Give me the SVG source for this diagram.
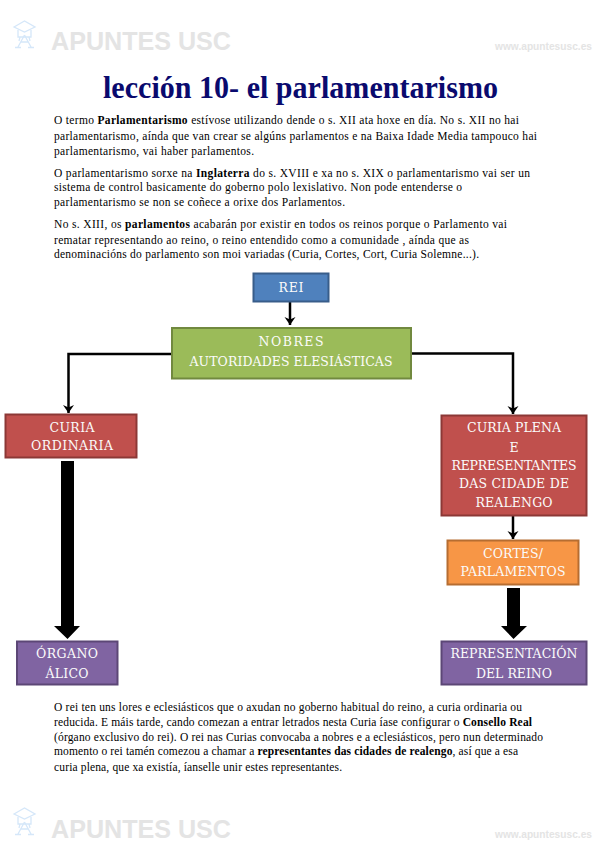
<svg xmlns="http://www.w3.org/2000/svg" xmlns:xlink="http://www.w3.org/1999/xlink" width="599" height="848" viewBox="0 0 599 848">
<style>
.wm{font-family:"Liberation Sans",Arial,sans-serif;font-weight:700;fill:#e4e4e4}
.ti{font-family:"Liberation Serif","Times New Roman",serif;font-weight:700;font-size:32px;fill:#0a0a6e}
.p{font-family:"Liberation Serif","Times New Roman",serif;font-size:11.500px;fill:#000}
.b{font-weight:700;fill:#000}
.n{font-family:"DejaVu Serif",serif;font-size:12.500px;fill:#fbfbfb;text-anchor:middle}
.box{stroke-width:2}
.con{fill:none;stroke:#000;stroke-width:2.500}
.ico{fill:none;stroke:#d5e7f9;stroke-width:1.300}
</style>
<defs>
<marker id="ah" markerUnits="userSpaceOnUse" markerWidth="12" markerHeight="12" refX="9" refY="6" orient="auto">
<path d="M1 0.500L9 6L1 11.500L3.500 6Z" fill="#000"/>
</marker>
<g id="logo">
<path class="ico" d="M14 27L24.500 21L35 27L24.500 32Z"/>
<path class="ico" d="M18 30V37H31V30M20 37L19 41M29 37L30 41"/>
<path class="ico" d="M24.500 35L18 47M24.500 35L31 47M21 42H28M15 47.500H21M28 47.500H34"/>
</g>
</defs>
<rect width="599" height="848" fill="#fff"/>
<g id="watermark-top">
<use xlink:href="#logo" href="#logo"/>
<text class="wm" x="51" y="50" font-size="25" textLength="180" lengthAdjust="spacingAndGlyphs">APUNTES USC</text>
<text class="wm" x="495" y="50" font-size="11" textLength="97" lengthAdjust="spacingAndGlyphs">www.apuntesusc.es</text>
</g>
<g id="watermark-bottom">
<use xlink:href="#logo" href="#logo" y="787"/>
<text class="wm" x="51" y="838" font-size="25" textLength="180" lengthAdjust="spacingAndGlyphs">APUNTES USC</text>
<text class="wm" x="495" y="838" font-size="11" textLength="97" lengthAdjust="spacingAndGlyphs">www.apuntesusc.es</text>
</g>
<g id="title">
<text class="ti" x="103" y="98" textLength="395" lengthAdjust="spacingAndGlyphs">lección 10- el parlamentarismo</text>
</g>
<g id="intro">
<text class="p" x="54" y="124" textLength="465"><tspan>O termo </tspan><tspan class="b">Parlamentarismo</tspan><tspan> estívose utilizando dende o s. XII ata hoxe en día. No s. XII no hai</tspan></text>
<text class="p" x="54" y="140" textLength="483">parlamentarismo, aínda que van crear se algúns parlamentos e na Baixa Idade Media tampouco hai</text>
<text class="p" x="54" y="155" textLength="200">parlamentarismo, vai haber parlamentos.</text>
<text class="p" x="54" y="177" textLength="476"><tspan>O parlamentarismo sorxe na </tspan><tspan class="b">Inglaterra</tspan><tspan> do s. XVIII e xa no s. XIX o parlamentarismo vai ser un</tspan></text>
<text class="p" x="54" y="191" textLength="408">sistema de control basicamente do goberno polo lexislativo. Non pode entenderse o</text>
<text class="p" x="54" y="206" textLength="291">parlamentarismo se non se coñece a orixe dos Parlamentos.</text>
<text class="p" x="54" y="228" textLength="453"><tspan>No s. XIII, os </tspan><tspan class="b">parlamentos</tspan><tspan> acabarán por existir en todos os reinos porque o Parlamento vai</tspan></text>
<text class="p" x="54" y="244" textLength="415">rematar representando ao reino, o reino entendido como a comunidade , aínda que as</text>
<text class="p" x="54" y="258" textLength="425">denominacións do parlamento son moi variadas (Curia, Cortes, Cort, Curia Solemne...).</text>
</g>
<g id="connectors">
<path class="con" marker-end="url(#ah)" d="M290 302V325"/>
<path class="con" marker-end="url(#ah)" d="M171 354H68.500V413"/>
<path class="con" marker-end="url(#ah)" d="M411 353.500H513V414"/>
<path class="con" marker-end="url(#ah)" d="M513 516V539"/>
<path d="M61 461H74V626H80L67.500 639L54 626H61Z" fill="#000"/>
<path d="M507 588H520V626H527L513.500 639L501 626H507Z" fill="#000"/>
</g>
<g id="rei">
<rect class="box" x="253.500" y="273.500" width="75" height="28" fill="#4f81bd" stroke="#385d8a"/>
<text class="n" x="291" y="292" textLength="25">REI</text>
</g>
<g id="nobres">
<rect class="box" x="172" y="328" width="239" height="50.500" fill="#9bbb59" stroke="#71893f"/>
<text class="n" x="291" y="346" font-size="14" textLength="65">NOBRES</text>
<text class="n" x="291" y="366" textLength="203">AUTORIDADES ELESIÁSTICAS</text>
</g>
<g id="curia-ordinaria">
<rect class="box" x="5.500" y="414.500" width="131" height="43" fill="#c0504d" stroke="#8c3836"/>
<text class="n" x="72" y="432" textLength="45">CURIA</text>
<text class="n" x="72" y="450" textLength="82">ORDINARIA</text>
</g>
<g id="curia-plena">
<rect class="box" x="441.500" y="415.500" width="145" height="100" fill="#c0504d" stroke="#8c3836"/>
<text class="n" x="514" y="432" textLength="94">CURIA PLENA</text>
<text class="n" x="514" y="452" textLength="9">E</text>
<text class="n" x="514" y="470" textLength="125">REPRESENTANTES</text>
<text class="n" x="514" y="488" textLength="110">DAS CIDADE DE</text>
<text class="n" x="514" y="507" textLength="77">REALENGO</text>
</g>
<g id="cortes">
<rect class="box" x="447.500" y="540.500" width="131" height="44" fill="#f79646" stroke="#b66d31"/>
<text class="n" x="513" y="558" textLength="60">CORTES/</text>
<text class="n" x="513" y="576" textLength="105">PARLAMENTOS</text>
</g>
<g id="representacion">
<rect class="box" x="441.500" y="641.500" width="145" height="43" fill="#8064a2" stroke="#5c4776"/>
<text class="n" x="514" y="658" textLength="127">REPRESENTACIÓN</text>
<text class="n" x="514" y="678" textLength="76">DEL REINO</text>
</g>
<g id="organo">
<rect class="box" x="17" y="641.500" width="100.500" height="43" fill="#8064a2" stroke="#5c4776"/>
<text class="n" x="67" y="658" textLength="62">ÓRGANO</text>
<text class="n" x="67" y="678" textLength="43">ÁLICO</text>
</g>
<g id="closing">
<text class="p" x="54" y="711" textLength="468">O rei ten uns lores e eclesiásticos que o axudan no goberno habitual do reino, a curia ordinaria ou</text>
<text class="p" x="54" y="726" textLength="478"><tspan>reducida. E máis tarde, cando comezan a entrar letrados nesta Curia íase configurar o </tspan><tspan class="b">Consello Real</tspan></text>
<text class="p" x="54" y="741" textLength="489"><tspan>(órgano exclusivo do rei). O rei nas Curias convocaba a nobres e a eclesiásticos, pero nun determinado</tspan></text>
<text class="p" x="54" y="755" textLength="464"><tspan>momento o rei tamén comezou a chamar a </tspan><tspan class="b">representantes das cidades de realengo</tspan><tspan>, así que a esa</tspan></text>
<text class="p" x="54" y="771" textLength="288">curia plena, que xa existía, íanselle unir estes representantes.</text>
</g>
</svg>
